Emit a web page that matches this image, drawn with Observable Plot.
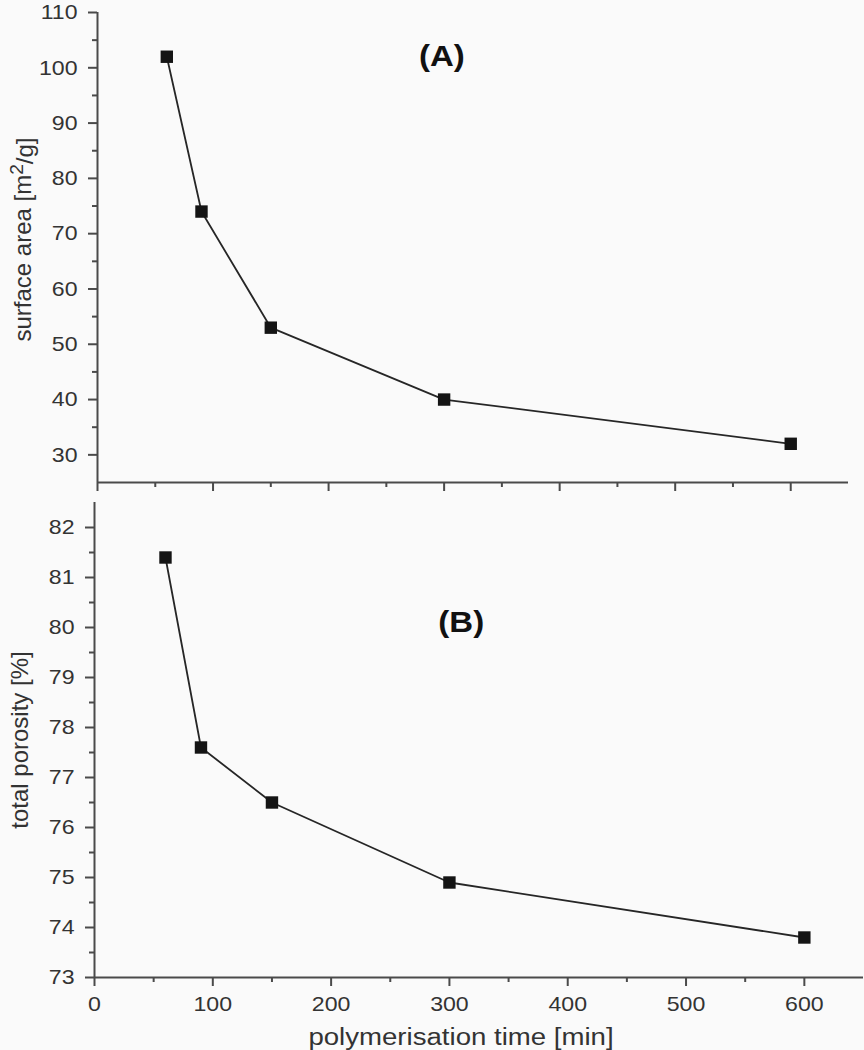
<!DOCTYPE html>
<html>
<head>
<meta charset="utf-8">
<script src="https://cdn.jsdelivr.net/npm/d3@7"></script>
<script src="https://cdn.jsdelivr.net/npm/@observablehq/plot@0.6"></script>
<style>
  html, body { margin: 0; padding: 0; background: #fafafa; }
  #chart { width: 864px; }
  #chart svg { display: block; background: #fafafa; }
</style>
</head>
<body>
<div id="chart"></div>
<script>
// ---- data ----
const timeA = [60, 90, 150, 300, 600];
const surfaceArea = [102, 74, 53, 40, 32];
const timeB = [60, 90, 150, 300, 600];
const porosity = [81.4, 77.6, 76.5, 74.9, 73.8];

const xTicks = [0, 100, 200, 300, 400, 500, 600];
const xMinorTicks = [50, 150, 250, 350, 450, 550];
const yTicksA = [30, 40, 50, 60, 70, 80, 90, 100, 110];
const yMinorA = [35, 45, 55, 65, 75, 85, 95, 105];
const yTicksB = [73, 74, 75, 76, 77, 78, 79, 80, 81, 82];
const yMinorB = [73.5, 74.5, 75.5, 76.5, 77.5, 78.5, 79.5, 80.5, 81.5];

const labelA = "surface area [m2/g]";
const labelB = "total porosity [%]";
const labelX = "polymerisation time [min]";
const panelA = {text: "(A)", x: 298, y: 102};
const panelB = {text: "(B)", x: 310, y: 80.1};

const dataA = timeA.map((t, i) => ({t, v: surfaceArea[i]}));
const dataB = timeB.map((t, i) => ({t, v: porosity[i]}));

const FONT = "'Liberation Sans', Arial, sans-serif";
const AX = "#4a4a4a";
const TXT = "#333";

function panel({data, yDomain, yTicks, yMinor, label, tag, width, height, marginLeft, marginRight, marginTop, marginBottom, showXLabels, labelDy}) {
  const marks = [
    Plot.ruleX([0], {y1: yDomain[0], y2: yDomain[1], stroke: AX, strokeWidth: 2}),
    Plot.ruleY([yDomain[0]], {x1: 0, x2: 650, stroke: AX, strokeWidth: 2}),
    Plot.axisY({ticks: yTicks, tickSize: 9, tickPadding: 11, stroke: AX, strokeWidth: 2, fill: TXT, fontSize: 21, label: null}),
    Plot.axisY({ticks: yMinor, tickSize: 5, tickFormat: () => "", stroke: AX, strokeWidth: 2, label: null}),
    Plot.axisX({ticks: xTicks, tickSize: 9, tickPadding: 10, stroke: AX, strokeWidth: 2, fill: TXT, fontSize: 21, label: null, tickFormat: showXLabels ? d3.format("d") : () => ""}),
    Plot.axisX({ticks: xMinorTicks, tickSize: 5, tickFormat: () => "", stroke: AX, strokeWidth: 2, label: null}),
    Plot.text([label], {frameAnchor: "left", dx: -74, dy: labelDy, rotate: -90, textAnchor: "middle", fontSize: 24, fill: TXT}),
    Plot.text([tag], {x: "x", y: "y", text: "text", fontSize: 30, fontWeight: "bold", fill: "#111"}),
    Plot.line(data, {x: "t", y: "v", stroke: "#262626", strokeWidth: 1.8}),
    Plot.dot(data, {x: "t", y: "v", symbol: "square", r: 7, fill: "#141414", stroke: "none"})
  ];
  if (showXLabels) {
    marks.push(Plot.text([labelX], {frameAnchor: "bottom", dx: -18, dy: 60, fontSize: 23, fill: TXT, lineAnchor: "middle"}));
  }
  return Plot.plot({
    width, height, marginLeft, marginRight, marginTop, marginBottom,
    style: {fontFamily: FONT, background: "#fafafa", overflow: "visible"},
    x: {domain: [0, 650]},
    y: {domain: yDomain},
    marks
  });
}

const panelTop = panel({
  data: dataA, yDomain: [25, 110], yTicks: yTicksA, yMinor: yMinorA, label: labelA, tag: panelA, labelDy: -8,
  width: 864, height: 490, marginLeft: 97, marginRight: 16, marginTop: 12, marginBottom: 8, showXLabels: false
});
const panelBottom = panel({
  data: dataB, yDomain: [73, 82.5], yTicks: yTicksB, yMinor: yMinorB, label: labelB, tag: panelB, labelDy: 0,
  width: 864, height: 560, marginLeft: 94, marginRight: 1, marginTop: 12, marginBottom: 73, showXLabels: true
});
document.getElementById("chart").append(panelTop, panelBottom);

// typographic touch-ups: the source figure's horizontal text is slightly wide-set
d3.selectAll("#chart svg text").each(function () {
  const el = this;
  const txt = el.textContent;
  if (!txt) return;
  if (txt === labelA) {
    // superscript 2 in m²/g
    const sel = d3.select(el);
    sel.text(null);
    sel.append("tspan").text("surface area [m");
    sel.append("tspan").attr("dy", "-0.45em").attr("font-size", "80%").text("2");
    sel.append("tspan").attr("dy", "0.45em").text("/g]");
    return;
  }
  if (txt === labelB) return;
  const factor = txt === labelX ? 1.2 : 1.1;
  const len = el.getComputedTextLength();
  el.setAttribute("textLength", (len * factor).toFixed(1));
  el.setAttribute("lengthAdjust", "spacingAndGlyphs");
});
</script>
</body>
</html>
